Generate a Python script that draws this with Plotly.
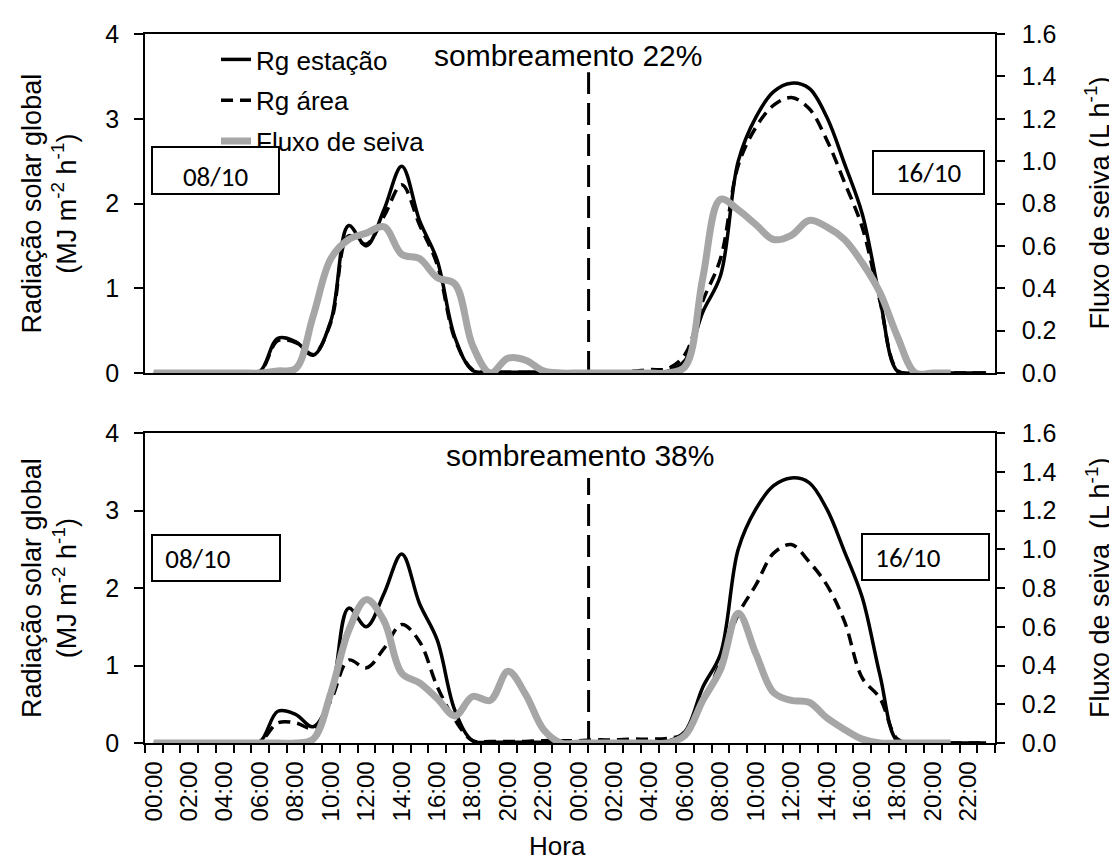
import plotly.graph_objects as go

# ---------------- data ----------------
HOURS = [f"{h:02d}:00" for h in range(24)] * 2          # two days, hourly
X = list(range(len(HOURS)))
TICK_POS = list(range(0, 48, 2))
TICK_TEXT = [HOURS[i] for i in TICK_POS]

# Rg estação (MJ m-2 h-1) – same station record in both panels
RG_ESTACAO = [0, 0, 0, 0, 0, 0, 0.02, 0.41, 0.37, 0.21, 0.62, 1.74,
              1.50, 1.93, 2.44, 1.80, 1.33, 0.42, 0.03, 0.01, 0.01, 0.01, 0.01, 0.0,
              0, 0, 0, 0, 0, 0.02, 0.15, 0.72, 1.15, 2.50, 3.02, 3.32,
              3.42, 3.36, 3.02, 2.47, 1.88, 0.88, 0.02, 0, 0, 0, 0, 0]
# Rg área – sombreamento 22 %
RG_AREA_22 = [0, 0, 0, 0, 0, 0, 0.02, 0.38, 0.36, 0.22, 0.60, 1.62,
              1.52, 1.85, 2.22, 1.75, 1.28, 0.40, 0.04, 0.01, 0.01, 0.01, 0.01, 0.0,
              0, 0, 0.01, 0.02, 0.04, 0.05, 0.22, 0.85, 1.35, 2.45, 2.90, 3.16,
              3.25, 3.12, 2.75, 2.25, 1.72, 0.85, 0.03, 0, 0, 0, 0, 0]
# Fluxo de seiva (L h-1) – 22 %
FLUXO_22 = [0, 0, 0, 0, 0, 0, 0, 0.01, 0.02, 0.27, 0.54, 0.63,
            0.66, 0.69, 0.56, 0.54, 0.45, 0.42, 0.13, 0.0, 0.07, 0.06, 0.01, 0.0,
            0, 0, 0, 0, 0, 0, 0.03, 0.45, 0.82, 0.77, 0.70, 0.63,
            0.65, 0.72, 0.69, 0.63, 0.52, 0.38, 0.17, 0.0, 0.0, 0.0, None, None]
# Rg área – sombreamento 38 %
RG_AREA_38 = [0, 0, 0, 0, 0, 0, 0.02, 0.26, 0.26, 0.19, 0.55, 1.07,
              0.97, 1.22, 1.53, 1.31, 0.73, 0.30, 0.03, 0.02, 0.02, 0.02, 0.03, 0.03,
              0.03, 0.04, 0.04, 0.05, 0.05, 0.06, 0.12, 0.52, 1.05, 1.66, 2.04, 2.45,
              2.56, 2.34, 2.04, 1.57, 0.84, 0.58, 0.05, 0, 0, 0, 0, 0]
# Fluxo de seiva (L h-1) – 38 %
FLUXO_38 = [0, 0, 0, 0, 0, 0, 0, 0, 0, 0.02, 0.26, 0.58,
            0.74, 0.63, 0.36, 0.31, 0.23, 0.14, 0.24, 0.22, 0.37, 0.25, 0.07, 0.0,
            0, 0, 0, 0, 0, 0, 0.04, 0.22, 0.38, 0.67, 0.46, 0.26,
            0.22, 0.21, 0.13, 0.07, 0.02, 0.0, 0, 0, 0, 0, None, None]

# day separator (category position, and its height in MJ m-2 h-1)
DIVIDER_X = [24.55, 24.55]
DIVIDER_Y_TOP = [0, 3.55]
DIVIDER_Y_BOTTOM = [0, 3.42]

# ---------------- geometry (pixels) ----------------
W, H = 1117, 864
L, R = 137, 987
T, B = 26, 735
TOP_BOTTOM, BOT_TOP = 365, 425


def px(xp):
    return (xp - L) / (R - L)


def py(yp):
    return (B - yp) / (B - T)


FONT = "Liberation Sans, Arial, sans-serif"
BOXFONT = "Carlito, Lato, Open Sans, sans-serif"
GRAY = "#A6A6A6"

fig = go.Figure()


def add_panel(xa, ya, ya2, area, fluxo, div_y, legend):
    fig.add_trace(go.Scatter(x=X, y=RG_ESTACAO, xaxis=xa, yaxis=ya, mode="lines",
                             name="Rg estação", legendgroup="a", showlegend=legend,
                             line=dict(color="black", width=3.5, shape="spline", smoothing=1)))
    fig.add_trace(go.Scatter(x=X, y=area, xaxis=xa, yaxis=ya, mode="lines",
                             name="Rg área", legendgroup="b", showlegend=legend,
                             line=dict(color="black", width=3.5, dash="12px,7px",
                                       shape="spline", smoothing=1)))
    fig.add_trace(go.Scatter(x=DIVIDER_X, y=div_y, xaxis=xa, yaxis=ya, mode="lines",
                             showlegend=False, hoverinfo="skip",
                             line=dict(color="black", width=3, dash="22px,9px")))
    fig.add_trace(go.Scatter(x=X, y=fluxo, xaxis=xa, yaxis=ya2, mode="lines",
                             name="Fluxo de seiva", legendgroup="c", showlegend=legend,
                             connectgaps=False,
                             line=dict(color=GRAY, width=7, shape="spline", smoothing=1)))


add_panel("x", "y", "y2", RG_AREA_22, FLUXO_22, DIVIDER_Y_TOP, True)
add_panel("x2", "y3", "y4", RG_AREA_38, FLUXO_38, DIVIDER_Y_BOTTOM, False)

top_dom = [py(TOP_BOTTOM), 1.0]
bot_dom = [0.0, py(BOT_TOP)]

axis_common = dict(showgrid=False, zeroline=False, showline=True,
                   linecolor="black", linewidth=1.5)
xr = [-0.5, 47.5]

ytick_left = dict(tickvals=[0, 1, 2, 3, 4], range=[0, 4], ticks="outside", ticklen=9,
                  tickwidth=1.5, tickcolor="black",
                  tickfont=dict(family=FONT, size=25, color="black"),
                  ticklabelstandoff=10, **axis_common)
ytick_right = dict(tickvals=[0, 0.2, 0.4, 0.6, 0.8, 1.0, 1.2, 1.4, 1.6], range=[0, 1.6],
                   tickformat=".1f", ticks="outside", ticklen=8, side="right",
                   tickwidth=1.5, tickcolor="black",
                   tickfont=dict(family=FONT, size=25, color="black"),
                   ticklabelstandoff=12, **axis_common)

fig.update_layout(
    width=W, height=H,
    margin=dict(l=L, r=W - R, t=T, b=H - B),
    paper_bgcolor="white", plot_bgcolor="white",
    font=dict(family=FONT, color="black"),
    xaxis=dict(domain=[0, 1], anchor="y", range=xr, showticklabels=False,
               ticks="", mirror=True, **axis_common),
    yaxis=dict(domain=top_dom, anchor="x", **ytick_left),
    yaxis2=dict(domain=top_dom, anchor="x", overlaying="y", **ytick_right),
    xaxis2=dict(domain=[0, 1], anchor="y3", range=xr, tickmode="array",
                tickvals=TICK_POS, ticktext=TICK_TEXT, tickangle=-90, ticks="",
                tickfont=dict(family=FONT, size=24, color="black"),
                ticklabelstandoff=7, mirror=True,
                minor=dict(tickmode="linear", tick0=-0.5, dtick=1, ticks="outside",
                           ticklen=8, tickwidth=1.5, tickcolor="black"),
                **axis_common),
    yaxis3=dict(domain=bot_dom, anchor="x2", **ytick_left),
    yaxis4=dict(domain=bot_dom, anchor="x2", overlaying="y3", **ytick_right),
    showlegend=True,
    legend=dict(x=px(208), y=py(28), xanchor="left", yanchor="top",
                bgcolor="rgba(0,0,0,0)", font=dict(family=FONT, size=26, color="black"),
                tracegroupgap=4, itemclick=False),
)

ann = []
top_c = (T + TOP_BOTTOM) / 2
bot_c = (BOT_TOP + B) / 2
# axis titles
for c in (top_c, bot_c):
    ann.append(dict(text="Radiação solar global<br>(MJ m<sup>-2</sup> h<sup>-1</sup>)",
                    x=px(41), y=py(c), xref="paper", yref="paper", textangle=-90,
                    showarrow=False, xanchor="center", yanchor="middle",
                    font=dict(family=FONT, size=27, color="black")))
ann.append(dict(text="Fluxo de seiva (L h<sup>-1</sup>)", x=px(1090), y=py(top_c),
                xref="paper", yref="paper", textangle=-90, showarrow=False,
                xanchor="center", yanchor="middle",
                font=dict(family=FONT, size=27, color="black")))
ann.append(dict(text="Fluxo de seiva\u00a0 (L h<sup>-1</sup>)", x=px(1090), y=py(bot_c),
                xref="paper", yref="paper", textangle=-90, showarrow=False,
                xanchor="center", yanchor="middle",
                font=dict(family=FONT, size=27, color="black")))
ann.append(dict(text="Hora", x=px(549), y=py(838), xref="paper", yref="paper",
                showarrow=False, xanchor="center", yanchor="middle",
                font=dict(family=FONT, size=26, color="black")))
# panel labels
ann.append(dict(text="sombreamento 22%", x=px(560), y=py(48), xref="paper", yref="paper",
                showarrow=False, xanchor="center", yanchor="middle",
                font=dict(family=FONT, size=30, color="black")))
ann.append(dict(text="sombreamento 38%", x=px(572), y=py(447), xref="paper", yref="paper",
                showarrow=False, xanchor="center", yanchor="middle",
                font=dict(family=FONT, size=30, color="black")))


# date boxes
def box(text, x0, x1, y0, y1, align="center", valign="middle"):
    ann.append(dict(text=text, x=px((x0 + x1) / 2), y=py((y0 + y1) / 2),
                    xref="paper", yref="paper", showarrow=False,
                    xanchor="center", yanchor="middle",
                    width=x1 - x0 - 4, height=y1 - y0 - 4, align=align, valign=valign,
                    bordercolor="black", borderwidth=2, borderpad=0, bgcolor="white",
                    font=dict(family=BOXFONT, size=27, color="black")))


box("08/10", 143, 272, 138, 187, valign="bottom")
box("16/10", 864, 977, 142, 187)
box("\u00a0\u00a008/10", 143, 273, 526, 574, align="left")
box("\u00a0\u00a016/10", 853, 982, 525, 573, align="left")

fig.update_layout(annotations=ann)

fig.write_html("out.html")
